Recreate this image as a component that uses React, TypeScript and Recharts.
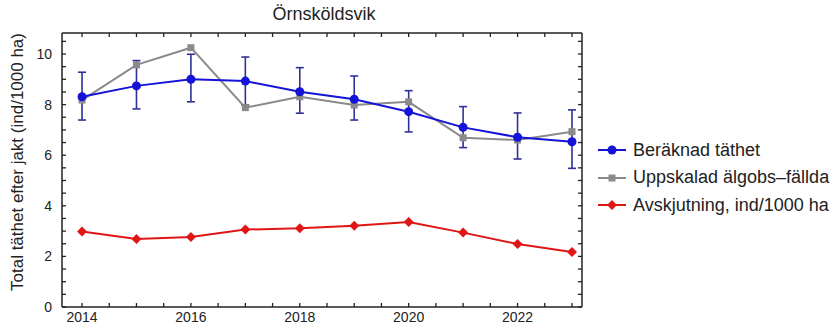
import React from 'react';
import { LineChart, Line, XAxis, YAxis, ErrorBar } from 'recharts';

const years = [2014, 2015, 2016, 2017, 2018, 2019, 2020, 2021, 2022, 2023];
const beraknad = [8.31, 8.74, 9.0, 8.93, 8.51, 8.21, 7.72, 7.1, 6.71, 6.53];
const beraknadLow = [7.39, 7.83, 8.11, 7.98, 7.66, 7.39, 6.92, 6.3, 5.85, 5.48];
const beraknadHigh = [9.28, 9.74, 9.99, 9.88, 9.46, 9.13, 8.55, 7.92, 7.67, 7.79];
const uppskalad = [8.18, 9.57, 10.25, 7.88, 8.31, 7.98, 8.11, 6.69, 6.6, 6.93];
const avskjutning = [2.98, 2.69, 2.77, 3.06, 3.11, 3.21, 3.36, 2.94, 2.49, 2.17];

const xTicks = [2014, 2014.5, 2015, 2015.5, 2016, 2016.5, 2017, 2017.5, 2018, 2018.5, 2019, 2019.5, 2020, 2020.5, 2021, 2021.5, 2022, 2022.5, 2023];
const yTicks = [0, 0.5, 1, 1.5, 2, 2.5, 3, 3.5, 4, 4.5, 5, 5.5, 6, 6.5, 7, 7.5, 8, 8.5, 9, 9.5, 10, 10.5];

const BLUE = '#1414d8';
const NAVY = '#30309a';
const GRAY = '#8a8a8a';
const RED = '#e01616';
const FONT = '"Liberation Sans", Arial, sans-serif';
const X_DOMAIN = [2013.632, 2023.184];
const Y_DOMAIN = [0, 10.83];

const data = years.map((year, i) => ({
  year,
  beraknad: beraknad[i],
  err: [beraknad[i] - beraknadLow[i], beraknadHigh[i] - beraknad[i]],
  uppskalad: uppskalad[i],
  avskjutning: avskjutning[i],
}));

const legendItems = [
  { name: 'Beräknad täthet', color: BLUE, shape: 'circle' },
  { name: 'Uppskalad älgobs–fällda', color: GRAY, shape: 'square' },
  { name: 'Avskjutning, ind/1000 ha', color: RED, shape: 'diamond' },
];

function BottomTick({ x, y, payload }: any) {
  const v = payload.value;
  const label = Number.isInteger(v) && v % 2 === 0;
  return (
    <g>
      <line x1={x} x2={x} y1={y} y2={y - 4} stroke="#222" strokeWidth={1.3} />
      {label && (
        <text x={x} y={y + 15} textAnchor="middle" fontSize={14} fontFamily={FONT} fill="#222">
          {v}
        </text>
      )}
    </g>
  );
}

function TopTick({ x, y }: any) {
  return <line x1={x} x2={x} y1={y} y2={y + 4} stroke="#222" strokeWidth={1.3} />;
}

function LeftTick({ x, y, payload }: any) {
  const v = payload.value;
  const label = Number.isInteger(v) && v % 2 === 0;
  return (
    <g>
      <line x1={x} x2={x + 4} y1={y} y2={y} stroke="#222" strokeWidth={1.3} />
      {label && (
        <text x={x - 10} y={y + 5} textAnchor="end" fontSize={14} fontFamily={FONT} fill="#222">
          {v}
        </text>
      )}
    </g>
  );
}

function RightTick({ x, y }: any) {
  return <line x1={x} x2={x - 4} y1={y} y2={y} stroke="#222" strokeWidth={1.3} />;
}

function SquareDot({ cx, cy }: any) {
  return <rect x={cx - 3.5} y={cy - 3.5} width={7} height={7} fill={GRAY} />;
}

function DiamondDot({ cx, cy }: any) {
  return <path d={`M${cx},${cy - 5} L${cx + 5},${cy} L${cx},${cy + 5} L${cx - 5},${cy} Z`} fill={RED} />;
}

function LegendMarker({ color, shape }: { color: string; shape: string }) {
  return (
    <svg width={28} height={12} style={{ display: 'block' }}>
      <line x1={0} x2={28} y1={6} y2={6} stroke={color} strokeWidth={2} />
      {shape === 'circle' && <circle cx={14} cy={6} r={4.5} fill={color} />}
      {shape === 'square' && <rect x={10.5} y={2.5} width={7} height={7} fill={color} />}
      {shape === 'diamond' && <path d="M14,1 L19,6 L14,11 L9,6 Z" fill={color} />}
    </svg>
  );
}

export default function App() {
  return (
    <div style={{ position: 'absolute', left: 0, top: 0, width: 838, height: 324, background: '#fff', fontFamily: FONT }}>
      <LineChart
        width={838}
        height={324}
        data={data}
        margin={{ top: 32, right: 255, bottom: 0, left: 0 }}
      >
        <XAxis
          dataKey="year"
          type="number"
          domain={X_DOMAIN}
          allowDataOverflow
          ticks={xTicks}
          interval={0}
          height={17}
          tickSize={0}
          tickMargin={0}
          tickLine={false}
          tick={<BottomTick />}
          axisLine={{ stroke: '#222', strokeWidth: 1.5 }}
        />
        <XAxis
          xAxisId="top"
          orientation="top"
          dataKey="year"
          type="number"
          domain={X_DOMAIN}
          allowDataOverflow
          ticks={xTicks}
          interval={0}
          height={1}
          tickSize={0}
          tickMargin={0}
          tickLine={false}
          tick={<TopTick />}
          axisLine={{ stroke: '#222', strokeWidth: 1.5 }}
        />
        <YAxis
          type="number"
          domain={Y_DOMAIN}
          allowDataOverflow
          ticks={yTicks}
          interval={0}
          width={62}
          tickSize={0}
          tickMargin={0}
          tickLine={false}
          tick={<LeftTick />}
          axisLine={{ stroke: '#222', strokeWidth: 1.5 }}
        />
        <YAxis
          yAxisId="right"
          orientation="right"
          type="number"
          domain={Y_DOMAIN}
          allowDataOverflow
          ticks={yTicks}
          interval={0}
          width={1}
          tickSize={0}
          tickMargin={0}
          tickLine={false}
          tick={<RightTick />}
          axisLine={{ stroke: '#222', strokeWidth: 1.5 }}
        />
        <Line
          dataKey="uppskalad"
          stroke={GRAY}
          strokeWidth={2}
          dot={<SquareDot />}
          activeDot={false}
          isAnimationActive={false}
        />
        <Line
          dataKey="beraknad"
          stroke={BLUE}
          strokeWidth={2}
          dot={{ r: 4.5, fill: BLUE, stroke: 'none' }}
          activeDot={false}
          isAnimationActive={false}
        >
          <ErrorBar dataKey="err" direction="y" width={4} stroke={NAVY} strokeWidth={1.6} isAnimationActive={false} />
        </Line>
        <Line
          dataKey="avskjutning"
          stroke={RED}
          strokeWidth={2}
          dot={<DiamondDot />}
          activeDot={false}
          isAnimationActive={false}
        />
      </LineChart>

      <div style={{ position: 'absolute', left: 264, width: 120, top: 4, textAlign: 'center', fontSize: 18, color: '#222', whiteSpace: 'nowrap' }}>
        Örnsköldsvik
      </div>

      <div
        style={{
          position: 'absolute',
          left: 18,
          top: 162,
          transform: 'translate(-50%, -50%) rotate(-90deg)',
          fontSize: 17,
          color: '#222',
          whiteSpace: 'nowrap',
        }}
      >
        Total täthet efter jakt (ind/1000 ha)
      </div>

      {legendItems.map((item, i) => (
        <div
          key={item.name}
          style={{ position: 'absolute', left: 598, top: 150 + i * 27.5 - 10, height: 20, display: 'flex', alignItems: 'center', gap: 7, fontSize: 18, color: '#222', whiteSpace: 'nowrap' }}
        >
          <LegendMarker color={item.color} shape={item.shape} />
          <span>{item.name}</span>
        </div>
      ))}
    </div>
  );
}
